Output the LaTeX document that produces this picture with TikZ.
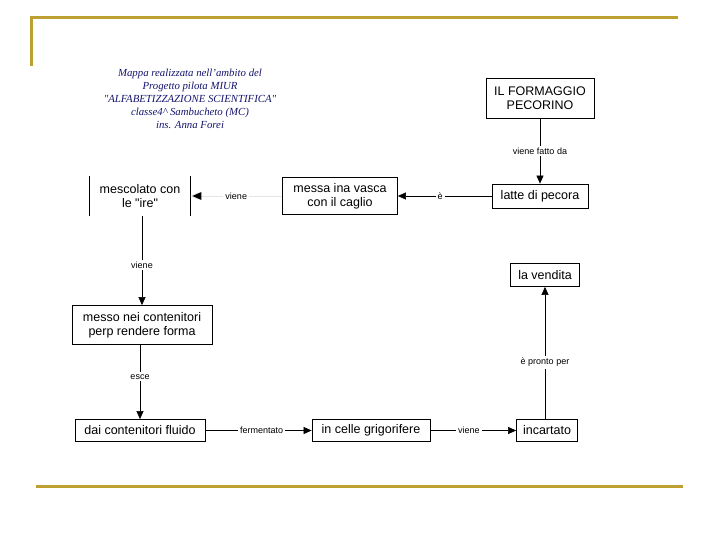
\documentclass[tikz,border=0pt]{standalone}
\usepackage{fontspec}
\setmainfont{Liberation Serif}
\setsansfont{Liberation Sans}
\usetikzlibrary{positioning,arrows.meta}
\definecolor{gold}{RGB}{190,160,50}
\definecolor{titleblue}{RGB}{20,20,110}
\tikzset{
  concept/.style={rectangle, draw, line width=0.8pt, fill=white, align=center, inner sep=3pt,
    font={\sffamily\fontsize{12.5}{14}\selectfont}},
  link/.style={font={\sffamily\fontsize{9}{10}\selectfont}, fill=white, inner sep=2pt},
  applyOp/.style={-{Triangle[length=8pt,width=7pt]}, line width=0.6pt},
  frame/.style={gold, line width=3pt}
}
\begin{document}
\begin{tikzpicture}[x=1pt, y=-1pt]
  \useasboundingbox (0,0) rectangle (720,540);
  % frame
  \draw [frame] (31,66) -- (31,18) -- (678,18);
  \draw [frame] (36,486) -- (683,486);
  % title
  \node [align=center, text=titleblue, font={\itshape\fontsize{10.8}{13}\selectfont}] (title) at (190,98.5)
    {Mappa realizzata nell'ambito del\\Progetto pilota MIUR\\\textquotedbl ALFABETIZZAZIONE SCIENTIFICA\textquotedbl\\classe4\^{} Sambucheto (MC)\\ins. Anna Forei};
  % concepts
  \node [concept, minimum width=108pt, minimum height=40pt] (formaggio) at (540,98) {IL FORMAGGIO\\PECORINO};
  \node [concept, minimum width=96pt, minimum height=24pt] (latte) at (540,196) {latte di pecora};
  \node [concept, minimum width=115pt, minimum height=37pt] (vasca) at (340,196) {messa ina vasca\\con il caglio};
  \node [concept, draw=none, minimum width=100pt, minimum height=40pt] (mescolato) at (140,196) {mescolato con\\le \textquotedbl ire\textquotedbl};
  \draw [line width=0.8pt] (mescolato.north west) -- (mescolato.south west)
    (mescolato.north east) -- (mescolato.south east);
  \node [concept, minimum width=140pt, minimum height=39pt] (contenitori) at (142,325) {messo nei contenitori\\perp rendere forma};
  \node [concept, minimum width=130pt, minimum height=22pt] (fluido) at (140,430.5) {dai contenitori fluido};
  \node [concept, minimum width=118pt, minimum height=22pt] (celle) at (371,430.5) {in celle grigorifere};
  \node [concept, minimum width=61pt, minimum height=22pt] (incartato) at (547,430.5) {incartato};
  \node [concept, minimum width=69pt, minimum height=23pt] (vendita) at (545,275) {la vendita};
  % links
  \draw [applyOp] (formaggio) -- node [link] {viene fatto da} (latte);
  \draw [applyOp] (latte) -- node [link, pos=0.55] {è} (vasca);
  \draw [applyOp, draw=gray!20] (vasca) -- node [link, text=black] {viene} (mescolato);
  \fill (mescolato.east) ++(2,0) -- ++(9,-4) -- ++(0,8) -- cycle;
  \draw [applyOp] (mescolato.south-|contenitori) -- node [link, pos=0.55] {viene} (contenitori);
  \draw [applyOp] (contenitori.south-|fluido) -- node [link, pos=0.43] {esce} (fluido);
  \draw [applyOp] (fluido) -- node [link, pos=0.53] {fermentato} (celle);
  \draw [applyOp] (celle) -- node [link, pos=0.45] {viene} (incartato);
  \draw [applyOp] (incartato.north-|vendita) -- node [link, pos=0.43] {è pronto per} (vendita);
\end{tikzpicture}
\end{document}
